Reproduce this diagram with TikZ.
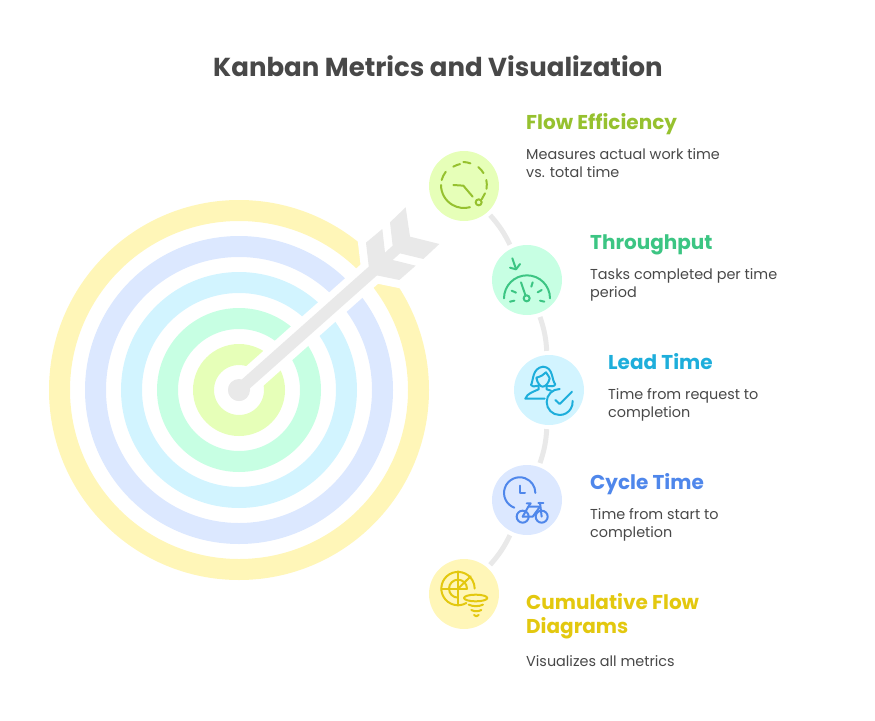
\documentclass[tikz,border=0pt]{standalone}
\usepackage{fontspec}
\setmainfont{Poppins}
\definecolor{limefill}{HTML}{E6FFB8}
\definecolor{limeline}{HTML}{96C12F}
\definecolor{mintfill}{HTML}{C7FFE3}
\definecolor{mintline}{HTML}{3CC583}
\definecolor{cyanfill}{HTML}{D2F4FF}
\definecolor{cyanline}{HTML}{1EAEDB}
\definecolor{bluefill}{HTML}{DCE8FF}
\definecolor{blueline}{HTML}{4F87EB}
\definecolor{sunfill}{HTML}{FFF6B8}
\definecolor{sunline}{HTML}{E3C80F}
\definecolor{arrowgray}{HTML}{E9E9E9}
\definecolor{textgray}{HTML}{484848}
\tikzset{
    ring/.style={line width=21pt, color=#1},
    badge/.style={circle, minimum size=70pt, inner sep=0pt, fill=#1},
    link/.style={line width=5pt, color=arrowgray, shorten <=4pt, shorten >=4pt},
    heading/.style={anchor=base west, inner sep=0pt, align=left, font=\fontsize{20}{24}\selectfont\bfseries, text=#1},
    body/.style={anchor=base west, inner sep=0pt, align=left, font=\fontsize{14.4}{18}\selectfont, text=textgray},
    icon/.style={line width=2pt, color=#1, line cap=round, line join=round},
    zoomed/.style={shift={#1}, x=0.3333pt, y=-0.3333pt}
}
\begin{document}
\begin{tikzpicture}[x=1pt, y=-1pt]
    \useasboundingbox (0,0) rectangle (875,720);
    \node (title) at (438,76) [anchor=base, inner sep=0pt, font=\fontsize{26}{30}\selectfont\bfseries, text=textgray] {Kanban Metrics and Visualization};

    % target
    \draw[ring=sunfill] (239,390) circle (179.5);
    \draw[ring=bluefill] (239,390) circle (143.5);
    \draw[ring=cyanfill] (239,390) circle (107.5);
    \draw[ring=mintfill] (239,390) circle (71.5);
    \draw[ring=limefill] (239,390) circle (35.5);

    % arrow
    \coordinate (nock) at (374,270);
    \node (bull) at (239,390) [circle, minimum size=22pt, inner sep=0pt, fill=arrowgray] {};
    \draw[line width=26pt, color=white] (bull.center) -- (nock);
    \begin{scope}[zoomed={(340,200)}]
        \draw[line width=16pt, color=white, fill=white, miter limit=4] (87,205) -- (78,128) -- (127,87) -- (135,158) -- (158,137) -- (150,67) -- (197,22) -- (210,110) -- (298,132) -- (250,177) -- (180,160) -- (158,180) -- (227,197) -- (178,240) -- (105,225) -- cycle;
        \fill[arrowgray] (87,205) -- (78,128) -- (127,87) -- (135,158) -- (158,137) -- (150,67) -- (197,22) -- (210,110) -- (298,132) -- (250,177) -- (180,160) -- (158,180) -- (227,197) -- (178,240) -- (105,225) -- cycle;
    \end{scope}
    \node (bull) at (239,390) [circle, minimum size=22pt, inner sep=0pt, fill=arrowgray] {};
    \draw[line width=12pt, color=arrowgray] (bull.center) -- (nock);

    % badges
    \node (flow) at (464,186) [badge=limefill] {};
    \node (through) at (527,280) [badge=mintfill] {};
    \node (lead) at (549,390) [badge=cyanfill] {};
    \node (cycle) at (527,500) [badge=bluefill] {};
    \node (cumul) at (464,594) [badge=sunfill] {};
    \draw[link] (flow) to[bend left=8] (through);
    \draw[link] (through) to[bend left=8] (lead);
    \draw[link] (lead) to[bend left=8] (cycle);
    \draw[link] (cycle) to[bend left=8] (cumul);

    % flow efficiency icon
    \begin{scope}[zoomed={(425,150)}]
        \draw[icon=limeline] (48,105) arc (180:75:69);
        \draw[icon=limeline] (50,90) arc (195:218:69);
        \draw[icon=limeline] (85,50) arc (240:258:69);
        \draw[icon=limeline] (115,36) arc (272:290:69);
        \draw[icon=limeline] (160,51) arc (310:330:69);
        \draw[icon=limeline] (184,90) arc (348:370:69);
        \draw[icon=limeline] (180,130) -- (170,148);
        \draw[icon=limeline] (161,157) circle (9);
        \draw[icon=limeline] (85,105) -- (115,107) -- (143,140);
    \end{scope}

    % throughput icon
    \begin{scope}[zoomed={(490,245)}]
        \draw[icon=mintline] (42,160) arc (180:360:69);
        \draw[icon=mintline] (110,160) circle (9);
        \draw[icon=mintline] (93,112) -- (106,150);
        \draw[icon=mintline] (65,137) -- (78,143);
        \draw[icon=mintline] (128,112) -- (124,125);
        \draw[icon=mintline] (155,135) -- (143,142);
        \draw[icon=mintline] (60,170) -- (73,167);
        \draw[icon=mintline] (150,167) -- (163,170);
        \draw[icon=mintline] (67,40) -- (78,72);
        \draw[icon=mintline] (60,68) -- (78,73) -- (90,57);
    \end{scope}

    % lead time icon
    \begin{scope}[zoomed={(512,355)}]
        \draw[icon=cyanline] (78,92) .. controls (66,95) and (58,95) .. (57,90) .. controls (65,75) and (60,40) .. (93,35) .. controls (125,37) and (118,75) .. (130,88) .. controls (128,95) and (115,95) .. (104,92);
        \draw[icon=cyanline] (73,68) .. controls (85,65) and (95,60) .. (102,52) .. controls (108,62) and (112,65) .. (113,70) .. controls (110,85) and (100,95) .. (92,95) .. controls (85,95) and (76,85) .. (73,68);
        \draw[icon=cyanline] (98,131) -- (40,131) .. controls (45,115) and (65,110) .. (80,103) -- (80,92);
        \draw[icon=cyanline] (104,94) -- (104,103) -- (117,107);
        \draw[icon=cyanline] (143,102) arc (270:-5:39);
        \draw[icon=cyanline] (130,135) -- (143,147) -- (180,110);
    \end{scope}

    % cycle time icon
    \begin{scope}[zoomed={(490,465)}]
        \draw[icon=blueline] (73,128) arc (110:360:47);
        \draw[icon=blueline] (90,62) -- (90,85) -- (105,85);
        \draw[icon=blueline] (98,155) circle (18);
        \draw[icon=blueline] (155,155) circle (18);
        \draw[icon=blueline] (98,155) -- (115,125) -- (150,125);
        \draw[icon=blueline] (98,155) -- (128,155) -- (150,125);
        \draw[icon=blueline] (110,115) -- (122,115) -- (115,125);
        \draw[icon=blueline] (145,113) -- (160,113);
        \draw[icon=blueline] (150,113) -- (155,155);
    \end{scope}

    % cumulative flow icon
    \begin{scope}[zoomed={(428,558)}]
        \draw[icon=sunline] (115,135) arc (60:360:50);
        \draw[icon=sunline] (90,119) arc (90:360:27);
        \draw[icon=sunline] (90,40) -- (90,143);
        \draw[icon=sunline] (40,92) -- (117,92);
        \draw[icon=sunline] (90,92) -- (128,55);
        \draw[icon=sunline] (143,120) ellipse (35 and 10);
        \draw[icon=sunline] (122,140) .. controls (135,146) and (152,146) .. (165,140);
        \draw[icon=sunline] (130,156) .. controls (140,161) and (150,161) .. (160,156);
        \draw[icon=sunline] (138,171) .. controls (143,176) and (148,176) .. (152,171);
    \end{scope}

    % labels
    \node (flowhead) at (526,129) [heading=limeline] {Flow Efficiency};
    \node (flowtext) at (526,177) [body] {Measures actual work time\\vs. total time};
    \node (throughhead) at (590,249) [heading=mintline] {Throughput};
    \node (throughtext) at (590,297) [body] {Tasks completed per time\\period};
    \node (leadhead) at (608,369) [heading=cyanline] {Lead Time};
    \node (leadtext) at (608,417) [body] {Time from request to\\completion};
    \node (cyclehead) at (590,489) [heading=blueline] {Cycle Time};
    \node (cycletext) at (590,537) [body] {Time from start to\\completion};
    \node (cumulhead) at (526,633) [heading=sunline] {Cumulative Flow\\Diagrams};
    \node (cumultext) at (526,666) [body] {Visualizes all metrics};
\end{tikzpicture}
\end{document}
